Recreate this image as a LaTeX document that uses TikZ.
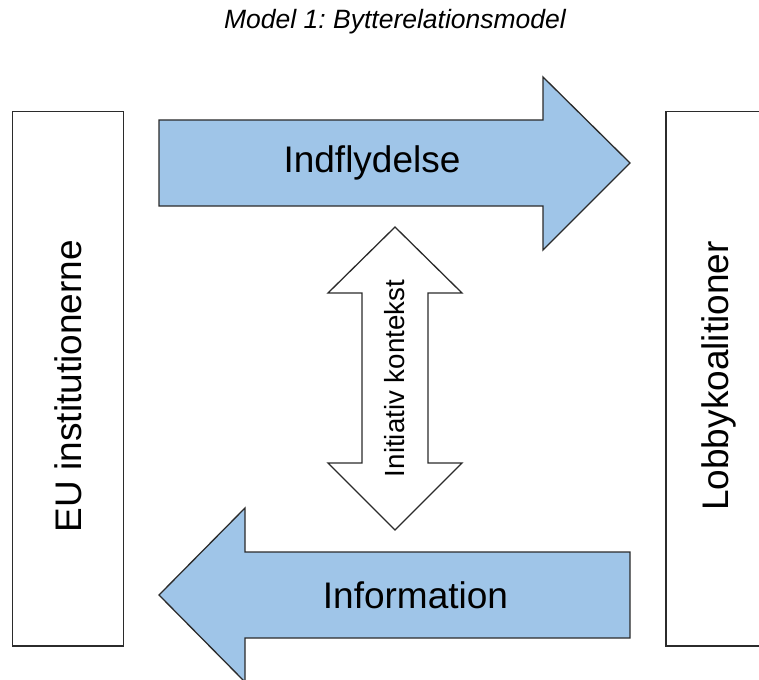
\documentclass[tikz,border=0pt]{standalone}
\usepackage{fontspec}
\setmainfont{Liberation Sans}
\frenchspacing
\definecolor{arrowblue}{HTML}{9FC5E8}
\definecolor{edgegray}{HTML}{2B2B2B}
\begin{document}
\begin{tikzpicture}[x=1pt,y=-1pt,
  panel/.style={draw=edgegray,line width=1.4pt,fill=white},
  blockarrow/.style={draw=edgegray,line width=1.3pt,fill=arrowblue,line join=miter},
  hollowarrow/.style={draw=edgegray,line width=1.3pt,fill=white,line join=miter},
  bigtext/.style={inner sep=0pt,font=\fontsize{37}{40}\selectfont},
  smalltext/.style={inner sep=0pt,font=\fontsize{27.7}{30}\selectfont}]
\useasboundingbox (0,0) rectangle (759,679);

% title
\node[inner sep=0pt,font=\fontsize{26.5}{30}\selectfont\itshape] (title) at (395,22) {Model 1: Bytterelationsmodel};

% side panels
\draw[panel] (12.5,111.5) rectangle (123.5,646);
\draw[panel] (666,111.5) rectangle (780,646);
\node[bigtext,rotate=90] (eu) at (68,386) {EU institutionerne};
\node[bigtext,rotate=90] (lobby) at (719,376) {Lobbykoalitioner};

% influence arrow (to the right)
\draw[blockarrow] (159,120) -- (543,120) -- (543,77) -- (630,163) -- (543,250) -- (543,206) -- (159,206) -- cycle;
\node[bigtext] (indfl) at (372,163) {Indflydelse};

% information arrow (to the left)
\draw[blockarrow] (630,552) -- (245,552) -- (245,508) -- (159,595) -- (245,682) -- (245,638) -- (630,638) -- cycle;
\node[bigtext] (info) at (415.5,595) {Information};

% double arrow in the middle
\draw[hollowarrow] (395,227) -- (462,293) -- (428,293) -- (428,463) -- (462,463) -- (395,530)
  -- (328,463) -- (362,463) -- (362,293) -- (328,293) -- cycle;
\node[smalltext,rotate=90] (ctx) at (395,378.5) {Initiativ kontekst};
\end{tikzpicture}
\end{document}
